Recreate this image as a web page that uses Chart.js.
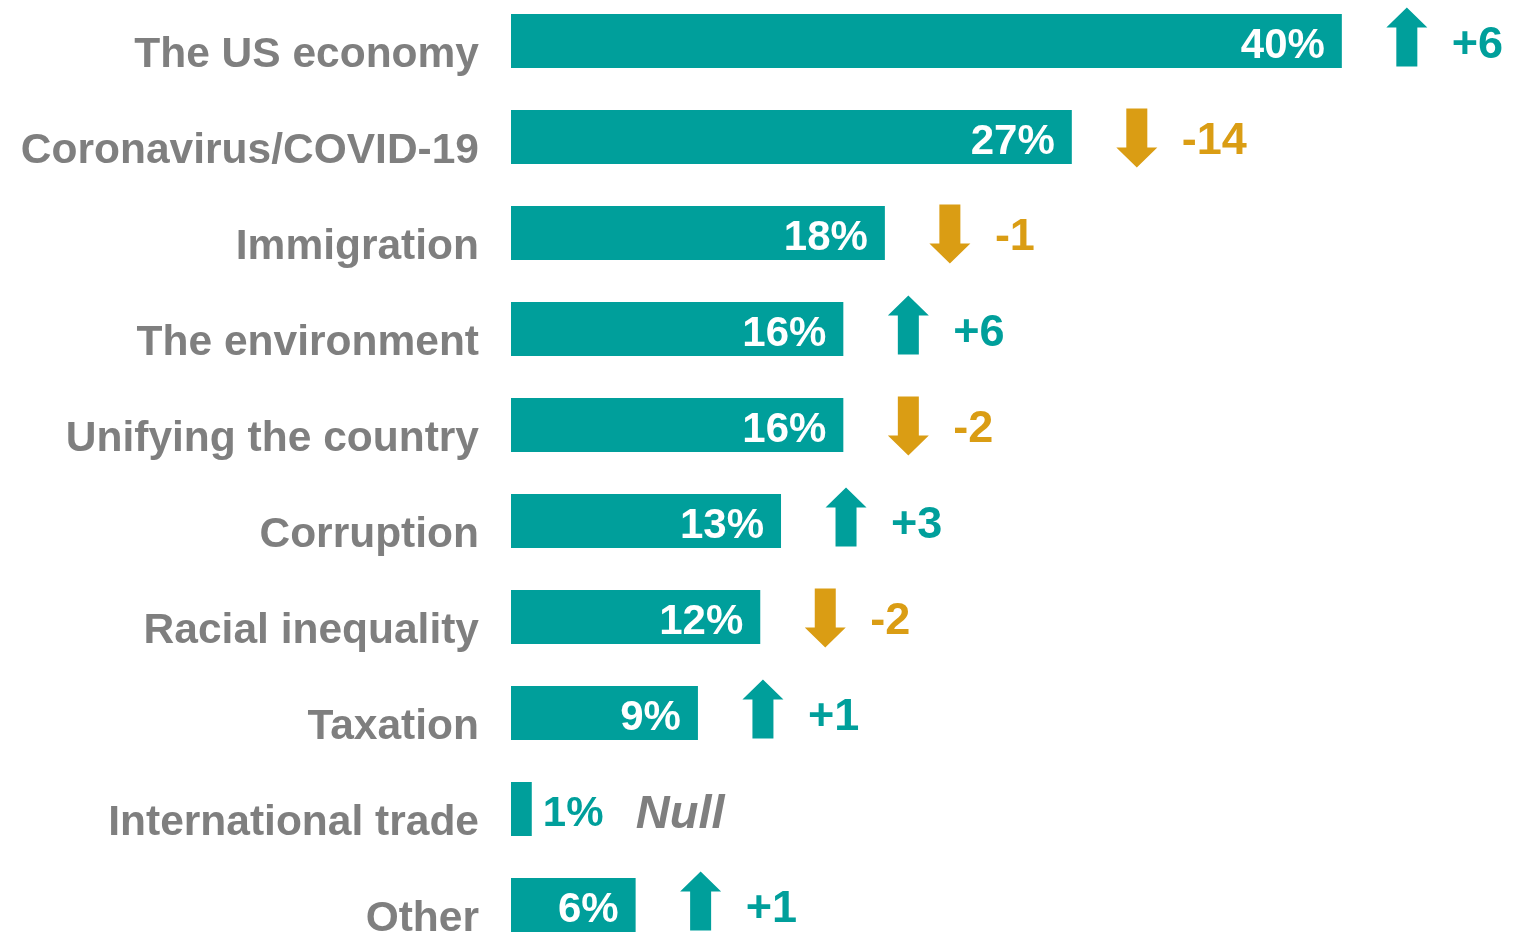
<!DOCTYPE html>
<html><head><meta charset="utf-8">
<script src="https://cdn.jsdelivr.net/npm/chart.js@4/dist/chart.umd.min.js"></script>
<style>
html,body{margin:0;padding:0;overflow:hidden;background:#fff;width:1514px;height:937px}
#wrap{position:absolute;left:0;top:-7px;width:1514px;height:960px}
</style></head>
<body><div id="wrap"><canvas id="c" width="1514" height="960"></canvas></div>
<script>
const categories = ['The US economy','Coronavirus/COVID-19','Immigration','The environment','Unifying the country','Corruption','Racial inequality','Taxation','International trade','Other'];
const shares = [40,27,18,16,16,13,12,9,1,6];
const changes = [6,-14,-1,6,-2,3,-2,1,null,1];
const changeLabels = ['+6','-14','-1','+6','-2','+3','-2','+1','Null','+1'];
const valueLabels = shares.map(v => v + '%');

const TEAL = '#009F9B';
const ORANGE = '#DA9D14';
const GRAY = '#7F7F7F';
const FONT = "'Liberation Sans', Arial, sans-serif";

function drawArrow(ctx, cx, cy, up, color) {
  const h = 59, w = 41, sw = 21, hh = 20;
  const top = cy - h / 2, bot = cy + h / 2;
  ctx.fillStyle = color;
  ctx.beginPath();
  if (up) {
    ctx.moveTo(cx, top);
    ctx.lineTo(cx + w / 2, top + hh);
    ctx.lineTo(cx + sw / 2, top + hh);
    ctx.lineTo(cx + sw / 2, bot);
    ctx.lineTo(cx - sw / 2, bot);
    ctx.lineTo(cx - sw / 2, top + hh);
    ctx.lineTo(cx - w / 2, top + hh);
  } else {
    ctx.moveTo(cx, bot);
    ctx.lineTo(cx + w / 2, bot - hh);
    ctx.lineTo(cx + sw / 2, bot - hh);
    ctx.lineTo(cx + sw / 2, top);
    ctx.lineTo(cx - sw / 2, top);
    ctx.lineTo(cx - sw / 2, bot - hh);
    ctx.lineTo(cx - w / 2, bot - hh);
  }
  ctx.closePath();
  ctx.fill();
}

const annotate = {
  id: 'annotate',
  afterDatasetsDraw(chart) {
    const ctx = chart.ctx;
    const meta = chart.getDatasetMeta(0);
    ctx.save();
    meta.data.forEach((bar, i) => {
      const x = bar.x, y = bar.y, base = bar.base;
      ctx.font = 'bold 42px ' + FONT;
      ctx.textBaseline = 'alphabetic';
      if (x - base > 80) {
        ctx.fillStyle = '#ffffff';
        ctx.textAlign = 'right';
        ctx.fillText(valueLabels[i], x - 17, y + 17);
      } else {
        ctx.fillStyle = TEAL;
        ctx.textAlign = 'left';
        ctx.fillText(valueLabels[i], x + 11, y + 17);
      }
      const c = changes[i];
      if (c === null) {
        ctx.font = 'italic bold 47px ' + FONT;
        ctx.fillStyle = GRAY;
        ctx.textAlign = 'left';
        ctx.fillText(changeLabels[i], x + 104, y + 19);
      } else {
        const up = c > 0;
        const col = up ? TEAL : ORANGE;
        const ax = x + 65;
        drawArrow(ctx, ax, up ? y - 4 : y + 1, up, col);
        ctx.font = 'bold 45px ' + FONT;
        ctx.fillStyle = col;
        ctx.textAlign = 'left';
        ctx.fillText(changeLabels[i], ax + 45, y + 17);
      }
    });
    ctx.restore();
  }
};

new Chart(document.getElementById('c'), {
  type: 'bar',
  data: {
    labels: categories,
    datasets: [{
      data: shares,
      backgroundColor: TEAL,
      borderWidth: 0,
      categoryPercentage: 1,
      barPercentage: 0.5625
    }]
  },
  options: {
    indexAxis: 'y',
    responsive: false,
    animation: false,
    devicePixelRatio: 1,
    layout: { padding: { left: 0, right: 6, top: 0, bottom: 0 } },
    plugins: { legend: { display: false }, tooltip: { enabled: false } },
    scales: {
      x: { display: false, min: 0, max: 48 },
      y: {
        grid: { display: false, drawTicks: false, drawOnChartArea: false },
        border: { display: false },
        afterFit(scale) { scale.width = 511; scale.paddingTop = 0; scale.paddingBottom = 0; },
        ticks: {
          padding: 32,
          labelOffset: 14,
          color: GRAY,
          font: { family: FONT, size: 42.5, weight: 'bold' }
        }
      }
    }
  },
  plugins: [annotate]
});
</script>
</body></html>
